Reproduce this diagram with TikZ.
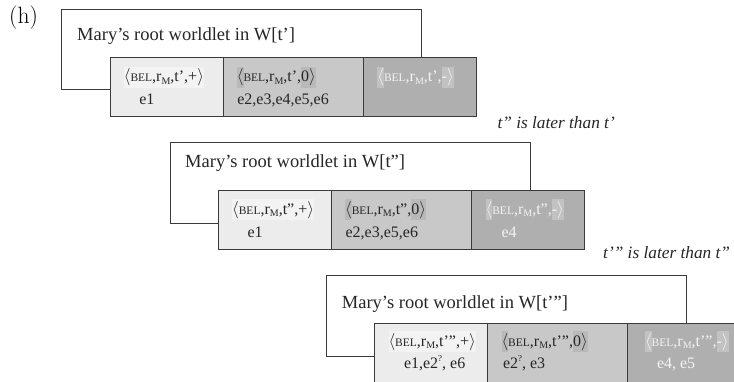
\documentclass[tikz,border=0pt]{standalone}
\usepackage{fontspec}
\setmainfont{Liberation Serif}
\usetikzlibrary{calc}

\definecolor{linec}{HTML}{3A3A3A}
\definecolor{ink}{HTML}{262626}
\definecolor{cellA}{HTML}{ECECEC}
\definecolor{cellB}{HTML}{C8C8C8}
\definecolor{cellC}{HTML}{AFAFAF}
\definecolor{hlA}{HTML}{F3F3F3}
\definecolor{hlB}{HTML}{B9B9B9}
\definecolor{hlC}{HTML}{C2C2C2}
\definecolor{paleink}{HTML}{F4F4F4}

% pieces of the tuple notation
\newcommand{\lan}{$\langle$}
\newcommand{\ran}{$\rangle$}
\newcommand{\belword}{{\fontsize{11.5}{12}\selectfont BEL}}
\newcommand{\rsubm}{r\raisebox{-0.35ex}{\fontsize{10}{10}\selectfont M}}
\newcommand{\qmark}{\raisebox{0.9ex}{\fontsize{9}{9}\selectfont ?}}
% shaded patch behind a bit of text
\newcommand{\hlbox}[2]{{\setlength{\fboxsep}{0pt}\colorbox{#1}{\rule[-6pt]{0pt}{21pt}#2}}}

\begin{document}
\begin{tikzpicture}[x=1pt,y=-1pt,
  frame/.style={draw=linec, line width=1pt, fill=white, inner sep=0pt, outer sep=0pt,
    anchor=north west, minimum width=360pt, minimum height=80.5pt},
  cell/.style={draw=linec, line width=1pt, inner sep=0pt, outer sep=0pt,
    anchor=north west, minimum height=59pt},
  title/.style={inner sep=0pt, anchor=base west, text=ink, font=\fontsize{18.5}{22}\selectfont},
  txt/.style={inner sep=0pt, anchor=base west, text=ink, font=\fontsize{16}{20}\selectfont},
  pale/.style={txt, text=paleink},
  note/.style={inner sep=0pt, anchor=base west, text=ink, font=\fontsize{17.3}{20}\selectfont\itshape},
]
\useasboundingbox (0,0) rectangle (734,381);

\node[inner sep=0pt, anchor=base west, text=black,
  font=\fontfamily{lmr}\fontsize{20}{24}\selectfont] (tag) at (9,23) {\scalebox{1.18}{(h)}};

% ---- worldlet at t'
\node[frame] (w1) at (61.7,9.3) {};
\node[title] (w1t) at (77,40) {Mary’s root worldlet in W[t’]};
\node[cell, fill=cellA, minimum width=113pt] (w1a) at ($(w1.north west)+(48.4,48.2)$) {};
\node[cell, fill=cellB, minimum width=140pt] (w1b) at (w1a.north east) {};
\node[cell, fill=cellC, minimum width=113pt] (w1c) at (w1b.north east) {};
\node[txt] (w1a1) at ($(w1a.north west)+(13.5,24)$) {\hlbox{hlA}{\lan\belword,\rsubm,t’,+\ran}};
\node[txt] (w1a2) at ($(w1a.north west)+(29,47)$) {e1};
\node[txt] (w1b1) at ($(w1b.north west)+(13.5,24)$) {\hlbox{hlB}{\lan}\belword,\rsubm,t’,\hlbox{hlB}{0\ran}};
\node[txt] (w1b2) at ($(w1b.north west)+(14,47)$) {e2,e3,e4,e5,e6};
\node[pale] (w1c1) at ($(w1c.north west)+(14,24)$) {\hlbox{hlC}{\lan}\belword,\rsubm,t’,\hlbox{hlC}{-\ran}};

\node[note, anchor=base east] (n1) at (615,128) {t” is later than t’};

% ---- worldlet at t"
\node[frame] (w2) at (170,142.7) {};
\node[title] (w2t) at (185,167) {Mary’s root worldlet in W[t”]};
\node[cell, fill=cellA, minimum width=113pt] (w2a) at ($(w2.north west)+(48.4,47.5)$) {};
\node[cell, fill=cellB, minimum width=140pt] (w2b) at (w2a.north east) {};
\node[cell, fill=cellC, minimum width=113pt] (w2c) at (w2b.north east) {};
\node[txt] (w2a1) at ($(w2a.north west)+(13.5,24)$) {\hlbox{hlA}{\lan\belword,\rsubm,t”,+\ran}};
\node[txt] (w2a2) at ($(w2a.north west)+(29,47)$) {e1};
\node[txt] (w2b1) at ($(w2b.north west)+(13.5,24)$) {\hlbox{hlB}{\lan}\belword,\rsubm,t”,\hlbox{hlB}{0\ran}};
\node[txt] (w2b2) at ($(w2b.north west)+(14,47)$) {e2,e3,e5,e6};
\node[pale] (w2c1) at ($(w2c.north west)+(14,24)$) {\hlbox{hlC}{\lan}\belword,\rsubm,t”,\hlbox{hlC}{-\ran}};
\node[pale] (w2c2) at ($(w2c.north west)+(30,47)$) {e4};

\node[note] (n2) at (603,258) {t’” is later than t”};

% ---- worldlet at t'''
\node[frame] (w3) at (326,275.7) {};
\node[title] (w3t) at (341.7,308) {Mary’s root worldlet in W[t’”]};
\node[cell, fill=cellA, minimum width=113pt] (w3a) at ($(w3.north west)+(48.8,47.6)$) {};
\node[cell, fill=cellB, minimum width=140pt] (w3b) at (w3a.north east) {};
\node[cell, fill=cellC, minimum width=113pt] (w3c) at (w3b.north east) {};
\node[txt] (w3a1) at ($(w3a.north west)+(13.5,23)$) {\hlbox{hlA}{\lan\belword,\rsubm,t’”,+\ran}};
\node[txt] (w3a2) at ($(w3a.north west)+(29,45)$) {e1,e2\qmark, e6};
\node[txt] (w3b1) at ($(w3b.north west)+(13.5,23)$) {\hlbox{hlB}{\lan}\belword,\rsubm,t’”,\hlbox{hlB}{0\ran}};
\node[txt] (w3b2) at ($(w3b.north west)+(15,45)$) {e2\qmark, e3};
\node[pale] (w3c1) at ($(w3c.north west)+(17,23)$) {\hlbox{hlC}{\lan}\belword,\rsubm,t’”,\hlbox{hlC}{-\ran}};
\node[pale] (w3c2) at ($(w3c.north west)+(29,45)$) {e4, e5};
\end{tikzpicture}
\end{document}
